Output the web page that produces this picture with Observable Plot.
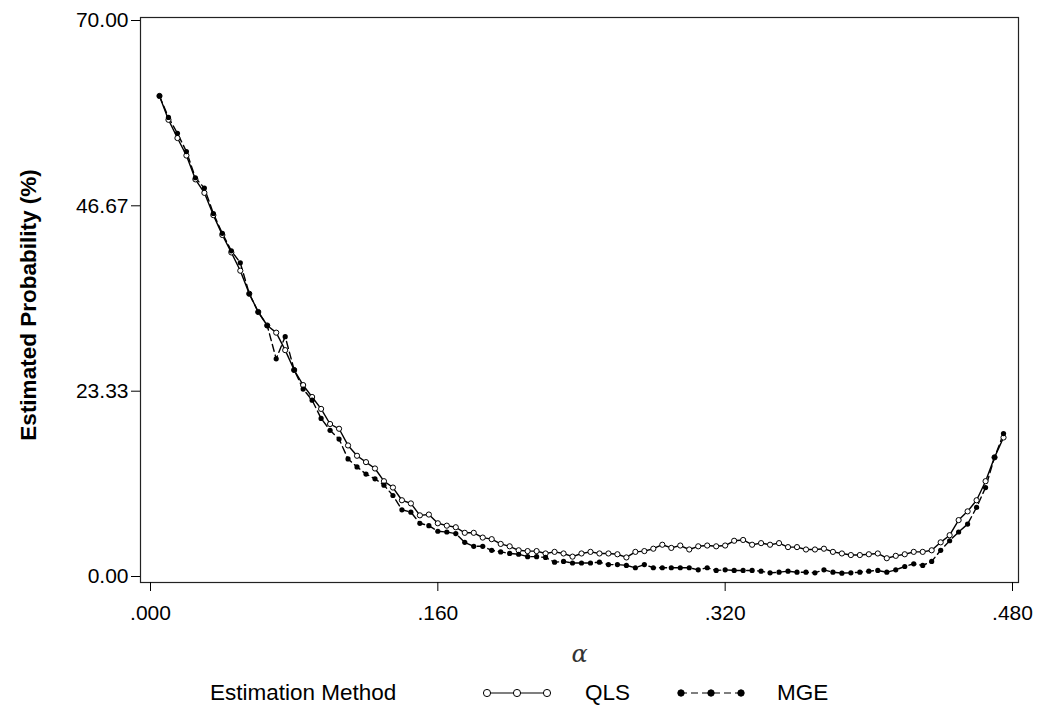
<!DOCTYPE html>
<html>
<head>
<meta charset="utf-8">
<script src="https://cdn.jsdelivr.net/npm/d3@7"></script>
<script src="https://cdn.jsdelivr.net/npm/@observablehq/plot@0.6"></script>
<style>
  html, body { margin: 0; padding: 0; background: #fff; }
  #wrap { position: relative; width: 1039px; height: 712px; font-family: "Liberation Sans", Arial, sans-serif; }
  #legend { position: absolute; left: 0; top: 675px; width: 1039px; height: 37px; font-size: 22.5px; color: #000; }
  #legend .item { position: absolute; top: 0; height: 36px; line-height: 36px; white-space: nowrap; }
  #legend svg { position: absolute; top: 10px; }
</style>
</head>
<body>
<div id="wrap">
  <div id="chart"></div>
  <div id="legend"></div>
</div>
<script>
// alpha grid: .005 to .475 in steps of .005
const alpha = d3.range(1, 96).map(i => +(i * 0.005).toFixed(3));

// Estimated probability (%) for the QLS estimator
const qls = [
  60.5, 57.5, 55.2, 53.0, 50.0, 48.3, 45.5, 43.0, 40.8, 38.5,
  35.6, 33.3, 31.6, 30.7, 28.5, 26.0, 24.1, 22.6, 21.1, 19.2,
  18.6, 16.5, 15.2, 14.4, 13.6, 12.0, 11.2, 9.6, 9.2, 7.7,
  7.8, 6.7, 6.4, 6.2, 5.5, 5.5, 4.9, 4.7, 4.1, 3.8,
  3.3, 3.2, 3.2, 2.9, 3.1, 2.9, 2.5, 2.9, 3.1, 2.9,
  2.9, 2.8, 2.4, 3.1, 3.2, 3.5, 4.0, 3.6, 3.9, 3.4,
  3.8, 3.9, 3.8, 3.9, 4.5, 4.6, 4.0, 4.2, 4.0, 4.2,
  3.7, 3.7, 3.4, 3.4, 3.5, 3.1, 2.9, 2.7, 2.7, 2.8,
  2.9, 2.3, 2.6, 2.8, 3.1, 3.1, 3.3, 4.3, 5.2, 7.1,
  8.2, 9.6, 12.0, 15.0, 17.5
];

// Estimated probability (%) for the MGE estimator
const mge = [
  60.5, 57.8, 55.8, 53.5, 50.2, 48.9, 45.7, 43.2, 41.0, 39.5,
  35.6, 33.3, 31.6, 27.4, 30.2, 26.0, 23.6, 22.2, 19.9, 18.4,
  17.3, 14.8, 13.8, 12.9, 12.3, 11.5, 10.2, 8.4, 8.1, 6.7,
  6.4, 5.7, 5.6, 5.4, 4.3, 3.8, 3.8, 3.3, 3.1, 2.9,
  2.8, 2.5, 2.5, 2.4, 1.8, 1.9, 1.7, 1.7, 1.7, 1.8,
  1.5, 1.5, 1.4, 1.1, 1.5, 1.1, 1.1, 1.1, 1.1, 1.1,
  0.84, 1.1, 0.76, 0.84, 0.76, 0.76, 0.76, 0.67, 0.46, 0.54,
  0.67, 0.54, 0.54, 0.46, 0.84, 0.54, 0.42, 0.46, 0.54, 0.67,
  0.76, 0.54, 0.84, 1.26, 1.6, 1.4, 1.9, 3.3, 4.5, 5.6,
  6.6, 8.7, 11.2, 15.0, 18.0
];

const methods = ["QLS", "MGE"];
const xTicks = [0, 0.16, 0.32, 0.48];
const yTicks = [0, 23.33, 46.67, 70];

const rows = [
  ...alpha.map((a, i) => ({alpha: a, p: qls[i], method: "QLS"})),
  ...alpha.map((a, i) => ({alpha: a, p: mge[i], method: "MGE"}))
];
const qlsRows = rows.filter(d => d.method === "QLS");
const mgeRows = rows.filter(d => d.method === "MGE");

const font = "'Liberation Sans', Arial, Helvetica, sans-serif";

const chart = Plot.plot({
  width: 1039,
  height: 672,
  marginLeft: 140,
  marginRight: 21,
  marginTop: 17,
  marginBottom: 90,
  style: {fontFamily: font, fontSize: "21px", color: "#000", background: "#fff"},
  x: {domain: [0, 0.48], insetLeft: 10, insetRight: 6},
  y: {domain: [0, 70], insetTop: 3, insetBottom: 6},
  marks: [
    Plot.frame({stroke: "#222", strokeWidth: 1.2}),
    Plot.axisX({
      ticks: xTicks,
      tickFormat: d => d3.format(".3f")(d).replace(/^0/, ""),
      tickSize: 9,
      tickPadding: 14,
      label: null,
      stroke: "#000"
    }),
    Plot.axisY({
      ticks: yTicks,
      tickFormat: d3.format(".2f"),
      tickSize: 9,
      tickPadding: 3,
      label: null,
      stroke: "#000"
    }),
    // axis titles
    Plot.text(["Estimated Probability (%)"], {
      frameAnchor: "left", dx: -112, dy: 5, rotate: -90, textAnchor: "middle",
      fontWeight: "bold", fontSize: 22.5, fill: "#000"
    }),
    Plot.text(["α"], {
      frameAnchor: "bottom", dy: 79,
      fontSize: 24, fontStyle: "italic", fontFamily: "'DejaVu Serif', serif", fill: "#333"
    }),
    // series
    Plot.line(qlsRows, {x: "alpha", y: "p", stroke: "#000", strokeWidth: 1.4}),
    Plot.line(mgeRows, {x: "alpha", y: "p", stroke: "#000", strokeWidth: 1.4, strokeDasharray: "7,4"}),
    Plot.dot(qlsRows, {x: "alpha", y: "p", r: 2.6, stroke: "#000", strokeWidth: 1, fill: "#fff"}),
    Plot.dot(mgeRows, {x: "alpha", y: "p", r: 2.6, fill: "#000", stroke: "none"})
  ]
});
document.getElementById("chart").append(chart);

// legend row below the plot
const legend = document.getElementById("legend");
function addText(txt, left) {
  const s = document.createElement("span");
  s.className = "item";
  s.style.left = left + "px";
  s.textContent = txt;
  legend.append(s);
}
function addSymbol(method, left) {
  const w = 70, h = 16;
  const svg = d3.create("svg").attr("width", w).attr("height", h)
    .style("left", left + "px");
  const filled = method === "MGE";
  svg.append("line").attr("x1", 4).attr("x2", w - 4).attr("y1", h / 2).attr("y2", h / 2)
    .attr("stroke", "#000").attr("stroke-width", 1.2)
    .attr("stroke-dasharray", filled ? "7,4" : null);
  [5, w / 2, w - 5].forEach(cx => {
    svg.append("circle").attr("cx", cx).attr("cy", h / 2).attr("r", filled ? 3.2 : 3.6)
      .attr("fill", filled ? "#000" : "#fff").attr("stroke", "#000").attr("stroke-width", 1);
  });
  legend.append(svg.node());
}
addText("Estimation Method", 210);
addSymbol(methods[0], 482);
addText(methods[0], 585);
addSymbol(methods[1], 676);
addText(methods[1], 777);
</script>
</body>
</html>
